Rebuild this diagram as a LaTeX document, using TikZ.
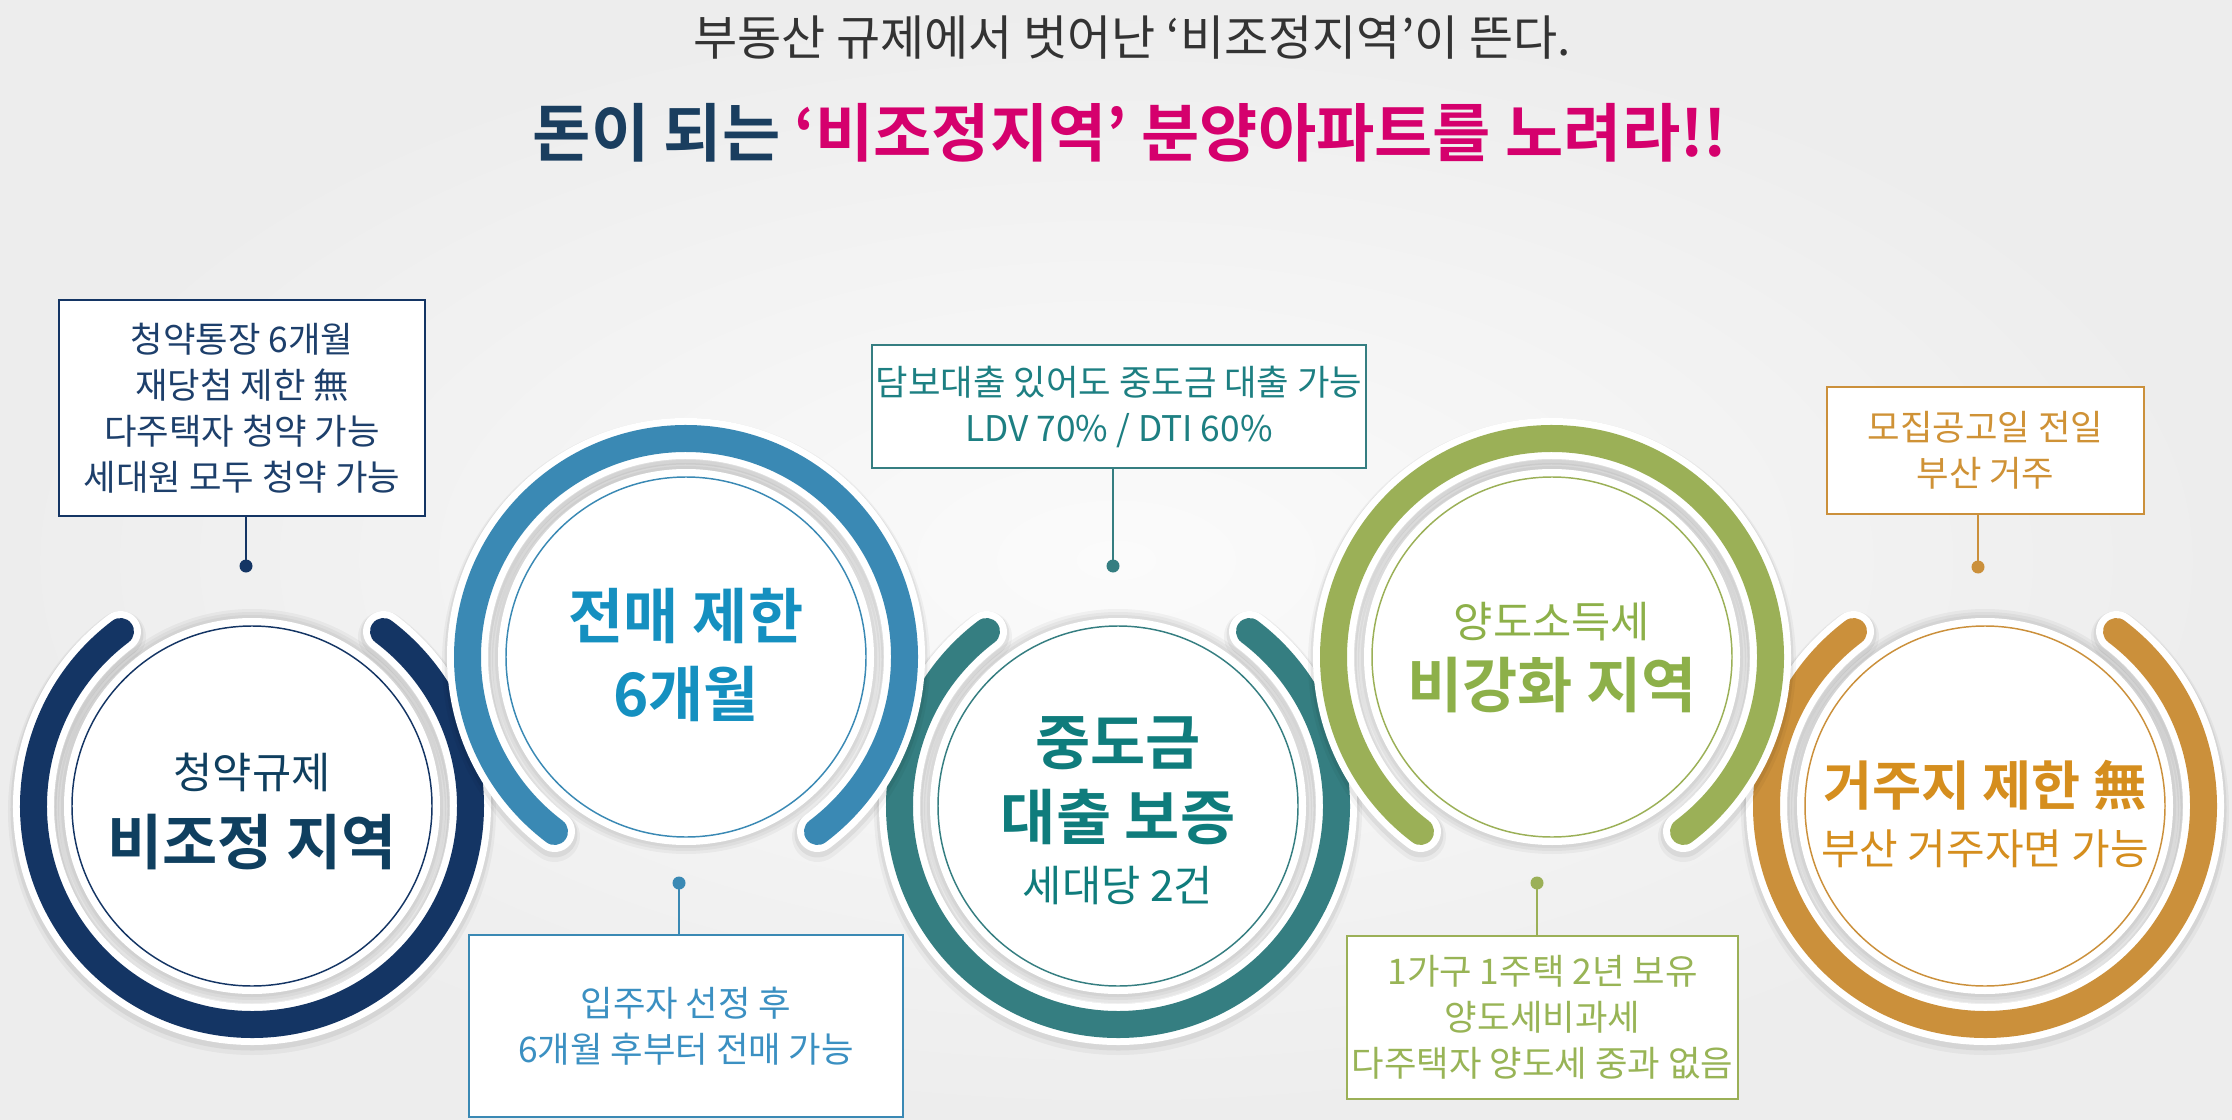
\documentclass[tikz,border=0pt]{standalone}
\usepackage{fontspec}
\setmainfont{Noto Sans CJK KR}[BoldFont={Noto Sans CJK KR Bold}]

\definecolor{cNavy}{HTML}{143564}
\definecolor{cBlue}{HTML}{3A89B4}
\definecolor{cTeal}{HTML}{357E81}
\definecolor{cGreen}{HTML}{9BB057}
\definecolor{cOrange}{HTML}{CB903B}
\definecolor{tNavy}{HTML}{0F3F5F}
\definecolor{tBlue}{HTML}{1590C0}
\definecolor{tTeal}{HTML}{0F7C7C}
\definecolor{tGreen}{HTML}{8DB049}
\definecolor{tOrange}{HTML}{D58E1E}
\definecolor{bNavy}{HTML}{1D3F6B}
\definecolor{bBlue}{HTML}{3B90C2}
\definecolor{bTeal}{HTML}{1D7F82}
\definecolor{bGreen}{HTML}{98B456}
\definecolor{bOrange}{HTML}{CF9236}
\definecolor{tMagenta}{HTML}{D5006D}
\definecolor{tDark}{HTML}{333333}
\definecolor{tTitle}{HTML}{1A3E5F}
\definecolor{bgIn}{HTML}{FBFBFB}
\definecolor{bgOut}{HTML}{EDEDED}

\tikzset{every picture/.style={line width=0.75pt}}
\tikzset{
  ringshade/.style={line cap=round, draw=black, line width=38.25pt, opacity=0.04},
  ringshadetwo/.style={line cap=round, draw=black, line width=34.5pt, opacity=0.06},
  ringrim/.style={line cap=round, draw=white, line width=30.75pt},
  ringband/.style={line cap=round, line width=20.25pt},
  diskshade/.style={fill=black, opacity=0.04},
  infobox/.style={draw, fill=white, line width=1.1pt, inner sep=0pt, align=center,
    font=\fontsize{26.5}{34.5}\selectfont},
  tagdot/.style={circle, inner sep=0pt, minimum size=9.75pt},
  tagline/.style={line width=1.5pt},
  smalltxt/.style={inner sep=0pt, font=\fontsize{32}{38}\selectfont},
  bigtxt/.style={inner sep=0pt, font=\fontsize{45}{52}\selectfont\bfseries}
}

\begin{document}
\begin{tikzpicture}[x=0.75pt,y=0.75pt,yscale=-1,xscale=1]
\useasboundingbox (0,0) rectangle (2232,1120);
%Shape: Background
\shade [inner color=bgIn, outer color=bgOut] (0,0) rectangle (2232,1120);

%Shape: Ring [circle 1]
\draw [ringshade, shift={(0,5)}] (252,806) ++(-127:218.5) arc [start angle=-127, end angle=-413, radius=218.5];
\draw [ringshadetwo, shift={(0,3)}] (252,806) ++(-127:218.5) arc [start angle=-127, end angle=-413, radius=218.5];
\draw [ringrim] (252,806) ++(-127:218.5) arc [start angle=-127, end angle=-413, radius=218.5];
\draw [ringband, draw=cNavy] (252,806) ++(-127:218.5) arc [start angle=-127, end angle=-413, radius=218.5];
\fill [diskshade] (252,806) circle [radius=197];
\fill [diskshade] (252,806) circle [radius=194];
\fill [diskshade] (252,806) circle [radius=191];
\fill [white] (252,806) circle [radius=188];
\draw [cNavy, line width=1.1pt] (252,806) circle [radius=180];

%Shape: Ring [circle 3]
\draw [ringshade, shift={(0,5)}] (1118,806) ++(-127:218.5) arc [start angle=-127, end angle=-413, radius=218.5];
\draw [ringshadetwo, shift={(0,3)}] (1118,806) ++(-127:218.5) arc [start angle=-127, end angle=-413, radius=218.5];
\draw [ringrim] (1118,806) ++(-127:218.5) arc [start angle=-127, end angle=-413, radius=218.5];
\draw [ringband, draw=cTeal] (1118,806) ++(-127:218.5) arc [start angle=-127, end angle=-413, radius=218.5];
\fill [diskshade] (1118,806) circle [radius=197];
\fill [diskshade] (1118,806) circle [radius=194];
\fill [diskshade] (1118,806) circle [radius=191];
\fill [white] (1118,806) circle [radius=188];
\draw [cTeal, line width=1.1pt] (1118,806) circle [radius=180];

%Shape: Ring [circle 5]
\draw [ringshade, shift={(0,5)}] (1985,806) ++(-127:218.5) arc [start angle=-127, end angle=-413, radius=218.5];
\draw [ringshadetwo, shift={(0,3)}] (1985,806) ++(-127:218.5) arc [start angle=-127, end angle=-413, radius=218.5];
\draw [ringrim] (1985,806) ++(-127:218.5) arc [start angle=-127, end angle=-413, radius=218.5];
\draw [ringband, draw=cOrange] (1985,806) ++(-127:218.5) arc [start angle=-127, end angle=-413, radius=218.5];
\fill [diskshade] (1985,806) circle [radius=197];
\fill [diskshade] (1985,806) circle [radius=194];
\fill [diskshade] (1985,806) circle [radius=191];
\fill [white] (1985,806) circle [radius=188];
\draw [cOrange, line width=1.1pt] (1985,806) circle [radius=180];

%Shape: Ring [circle 2]
\draw [ringshade, shift={(0,5)}] (686,657) ++(53:218.5) arc [start angle=53, end angle=-233, radius=218.5];
\draw [ringshadetwo, shift={(0,3)}] (686,657) ++(53:218.5) arc [start angle=53, end angle=-233, radius=218.5];
\draw [ringrim] (686,657) ++(53:218.5) arc [start angle=53, end angle=-233, radius=218.5];
\draw [ringband, draw=cBlue] (686,657) ++(53:218.5) arc [start angle=53, end angle=-233, radius=218.5];
\fill [diskshade] (686,657) circle [radius=197];
\fill [diskshade] (686,657) circle [radius=194];
\fill [diskshade] (686,657) circle [radius=191];
\fill [white] (686,657) circle [radius=188];
\draw [cBlue, line width=1.1pt] (686,657) circle [radius=180];

%Shape: Ring [circle 4]
\draw [ringshade, shift={(0,5)}] (1552,657) ++(53:218.5) arc [start angle=53, end angle=-233, radius=218.5];
\draw [ringshadetwo, shift={(0,3)}] (1552,657) ++(53:218.5) arc [start angle=53, end angle=-233, radius=218.5];
\draw [ringrim] (1552,657) ++(53:218.5) arc [start angle=53, end angle=-233, radius=218.5];
\draw [ringband, draw=cGreen] (1552,657) ++(53:218.5) arc [start angle=53, end angle=-233, radius=218.5];
\fill [diskshade] (1552,657) circle [radius=197];
\fill [diskshade] (1552,657) circle [radius=194];
\fill [diskshade] (1552,657) circle [radius=191];
\fill [white] (1552,657) circle [radius=188];
\draw [cGreen, line width=1.1pt] (1552,657) circle [radius=180];

% Text Node
\draw (1132,38) node (t1) [inner sep=0pt, text=tDark, font=\fontsize{36}{42}\selectfont] {부동산 규제에서 벗어난 ‘비조정지역’이 뜬다.};
% Text Node
\draw (1130,133) node (t2) [inner sep=0pt, font=\fontsize{47.5}{54}\selectfont\bfseries] {\textcolor{tTitle}{돈이 되는} \textcolor{tMagenta}{‘비조정지역’ 분양아파트를 노려라!!}};

% Text Node
\draw (252,772) node (c1a) [smalltxt, text=tNavy] {청약규제};
\draw (252,842) node (c1b) [bigtxt, text=tNavy] {비조정 지역};
% Text Node
\draw (686,616) node (c2a) [bigtxt, text=tBlue] {전매 제한};
\draw (686,694) node (c2b) [bigtxt, text=tBlue] {6개월};
% Text Node
\draw (1118,743) node (c3a) [bigtxt, text=tTeal] {중도금};
\draw (1118,817) node (c3b) [bigtxt, text=tTeal] {대출 보증};
\draw (1118,886) node (c3c) [smalltxt, text=tTeal] {세대당 2건};
% Text Node
\draw (1552,622) node (c4a) [smalltxt, text=tGreen] {양도소득세};
\draw (1552,685) node (c4b) [bigtxt, text=tGreen] {비강화 지역};
% Text Node
\draw (1985,785) node (c5a) [bigtxt, text=tOrange, font=\fontsize{40}{46}\selectfont\bfseries] {거주지 제한 無};
\draw (1985,849) node (c5b) [smalltxt, text=tOrange, font=\fontsize{31.5}{38}\selectfont] {부산 거주자면 가능};

% Info Box
\draw (242,408) node (b1) [infobox, draw=cNavy, text=bNavy, minimum width=274.5pt, minimum height=162pt] {청약통장 6개월\\재당첨 제한 無\\다주택자 청약 가능\\세대원 모두 청약 가능};
\draw (686,1026) node (b2) [infobox, draw=cBlue, text=bBlue, minimum width=325.5pt, minimum height=136.5pt] {입주자 선정 후\\6개월 후부터 전매 가능};
\draw (1119,406.5) node (b3) [infobox, draw=cTeal, text=bTeal, minimum width=370.5pt, minimum height=92.25pt] {담보대출 있어도 중도금 대출 가능\\LDV 70\% / DTI 60\%};
\draw (1542.5,1017.5) node (b4) [infobox, draw=cGreen, text=bGreen, minimum width=293.25pt, minimum height=122.25pt] {1가구 1주택 2년 보유\\양도세비과세\\다주택자 양도세 중과 없음};
\draw (1985.5,450.5) node (b5) [infobox, draw=cOrange, text=bOrange, minimum width=237.75pt, minimum height=95.25pt] {모집공고일 전일\\부산 거주};

% Tag Dots
\draw (246,566) node (d1) [tagdot, fill=cNavy] {};
\draw (679,883) node (d2) [tagdot, fill=cBlue] {};
\draw (1113,566) node (d3) [tagdot, fill=cTeal] {};
\draw (1537,883) node (d4) [tagdot, fill=cGreen] {};
\draw (1978,567) node (d5) [tagdot, fill=cOrange] {};

% Tag Lines
\draw [tagline, cNavy] (d1.center) -- (d1.center |- b1.south);
\draw [tagline, cBlue] (d2.center) -- (d2.center |- b2.north);
\draw [tagline, cTeal] (d3.center) -- (d3.center |- b3.south);
\draw [tagline, cGreen] (d4.center) -- (d4.center |- b4.north);
\draw [tagline, cOrange] (d5.center) -- (d5.center |- b5.south);

\end{tikzpicture}
\end{document}
